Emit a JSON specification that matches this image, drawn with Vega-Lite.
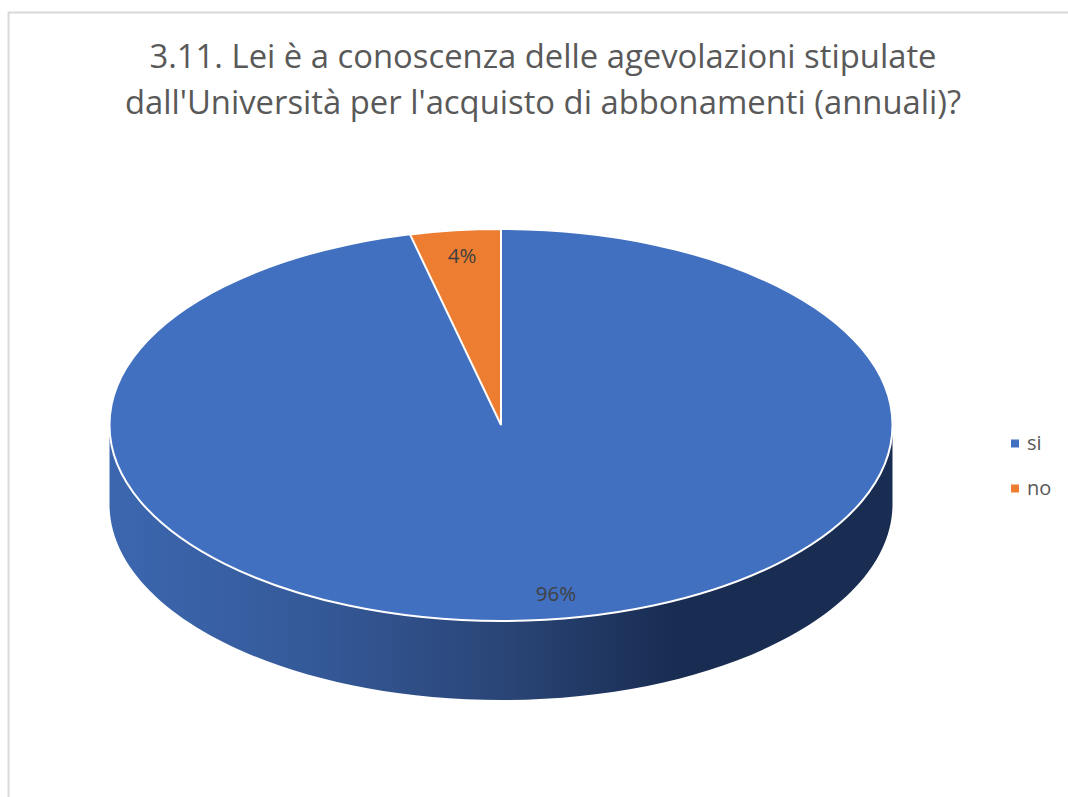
{
  "$schema": "https://vega.github.io/schema/vega-lite/v6.json",
  "autosize": "none",
  "width": 982,
  "height": 744,
  "padding": {"left": 10, "top": 53, "right": 76, "bottom": 0},
  "background": "white",
  "title": {
    "text": ["3.11. Lei è a conoscenza delle agevolazioni stipulate", "dall'Università per l'acquisto di abbonamenti (annuali)?"],
    "font": "Open Sans", "fontSize": 32.8, "fontWeight": "normal", "color": "#595959",
    "anchor": "middle", "frame": "group", "dx": 42, "dy": 138.5, "lineHeight": 46.5, "baseline": "alphabetic", "offset": 0
  },
  "config": {"view": {"stroke": null}},
  "data": {"values": [
    {"risposta": "si", "percentuale": 0.96},
    {"risposta": "no", "percentuale": 0.04}
  ]},
  "layer": [
    {
      "transform": [{"filter": "datum.risposta == 'si'"}],
      "mark": {"type": "point", "shape": "M-492.5,372V-412.5H567", "size": 4, "filled": false, "stroke": "#d9d9d9", "strokeWidth": 2, "opacity": 1}
    },
    {
      "transform": [{"filter": "datum.risposta == 'si'"}],
      "mark": {"type": "point", "shape": "M-391.5,0V79A391.5,196 0 0 0 391.5,79V0A391.5,196 0 0 1 -391.5,0Z", "size": 4, "filled": true, "opacity": 1,
        "fill": {"gradient": "linear", "x1": 0, "y1": 0, "x2": 1, "y2": 0, "stops": [
          {"offset": 0, "color": "#3c67af"},
          {"offset": 0.25, "color": "#355a9a"},
          {"offset": 0.5, "color": "#2a4577"},
          {"offset": 0.72, "color": "#192d52"},
          {"offset": 1, "color": "#192d52"}
        ]}}
    },
    {
      "transform": [{"filter": "datum.risposta == 'si'"}],
      "mark": {"type": "point", "shape": "M-391.5,0A391.5,196 0 1 1 391.5,0A391.5,196 0 1 1 -391.5,0Z", "size": 4, "filled": true, "opacity": 1, "stroke": "white", "strokeWidth": 2},
      "encoding": {"color": {"field": "risposta", "type": "nominal",
        "scale": {"domain": ["si", "no"], "range": ["#4270c0", "#ed7d31"]},
        "legend": {"title": null, "orient": "none", "legendX": 995, "legendY": 380, "symbolType": "square", "symbolSize": 64, "symbolStrokeWidth": 0, "labelFont": "Open Sans", "labelFontSize": 20, "labelColor": "#595959", "labelOffset": 2, "rowPadding": 24, "clipHeight": 21}
      }}
    },
    {
      "transform": [{"filter": "datum.risposta == 'no'"}],
      "mark": {"type": "point", "shape": "M0,0L0,-196A391.5,196 0 0 0 -91,-190.6Z", "size": 4, "filled": true, "opacity": 1, "stroke": "white", "strokeWidth": 2},
      "encoding": {"color": {"field": "risposta", "type": "nominal"}}
    },
    {
      "transform": [{"filter": "datum.risposta == 'no'"}],
      "mark": {"type": "text", "font": "Open Sans", "fontSize": 20.5, "color": "#404040", "dx": -39, "dy": -168},
      "encoding": {"text": {"field": "percentuale", "type": "quantitative", "format": ".0%"}}
    },
    {
      "transform": [{"filter": "datum.risposta == 'si'"}],
      "mark": {"type": "text", "font": "Open Sans", "fontSize": 20.5, "color": "#404040", "dx": 55, "dy": 170},
      "encoding": {"text": {"field": "percentuale", "type": "quantitative", "format": ".0%"}}
    }
  ]
}
